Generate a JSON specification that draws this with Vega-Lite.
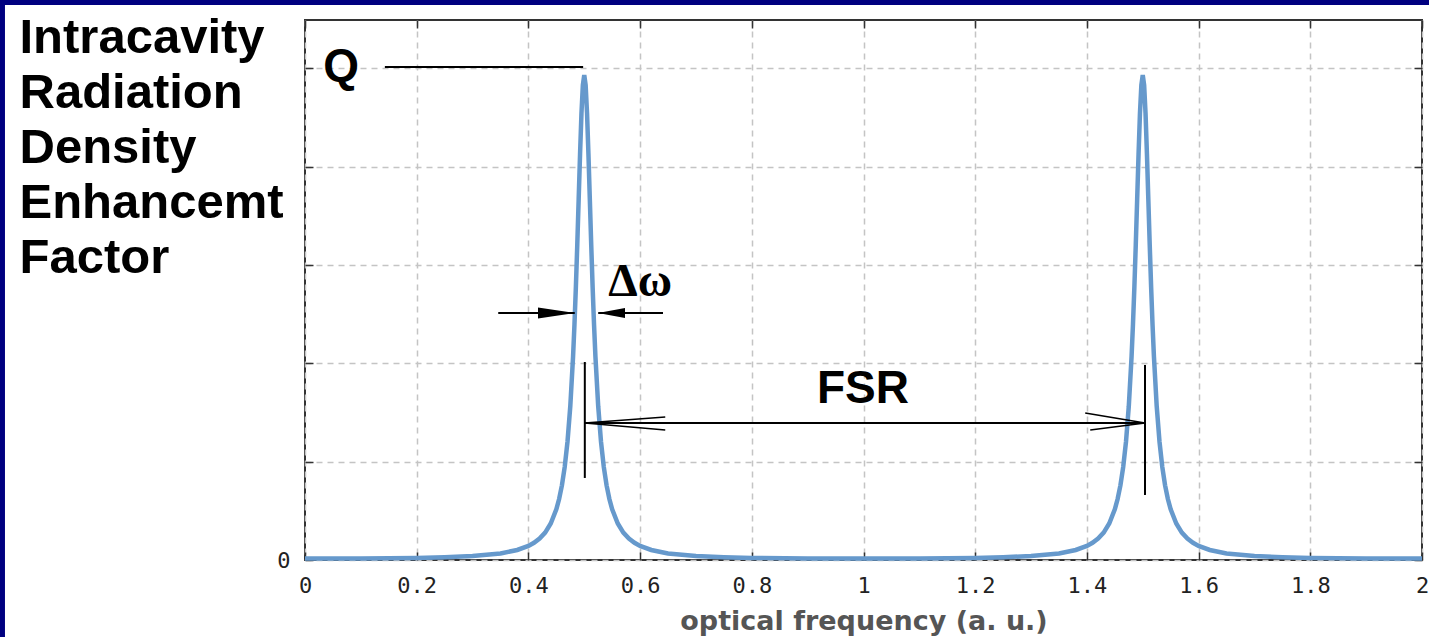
{
  "$schema": "https://vega.github.io/schema/vega-lite/v6.json",
  "width": 1117,
  "height": 540,
  "autosize": {"type": "none"},
  "padding": {"left": 305, "top": 20, "right": 7, "bottom": 77},
  "background": "white",
  "config": {
    "view": {"stroke": "#333333", "strokeWidth": 2}
  },
  "resolve": {"axis": {"x": "independent", "y": "independent"}},
  "layer": [
    {
      "data": {"values": [
        {"x": -1, "x2": 3, "y": 5.643, "y2": 9},
        {"x": -1, "x2": -0.5372, "y": -3, "y2": 9}
      ]},
      "mark": {"type": "rect", "fill": "#000080", "clip": false},
      "encoding": {
        "x": {"field": "x", "type": "quantitative", "scale": {"domain": [0, 2], "nice": false, "zero": false}, "axis": null},
        "x2": {"field": "x2"},
        "y": {"field": "y", "type": "quantitative", "scale": {"domain": [0, 5.49], "nice": false, "zero": false}, "axis": null},
        "y2": {"field": "y2"}
      }
    },
    {
      "data": {"values": [
        {"x": 0, "y": 0.014}, {"x": 0.1, "y": 0.0155}, {"x": 0.2, "y": 0.021}, {"x": 0.25, "y": 0.028},
        {"x": 0.3, "y": 0.04}, {"x": 0.35, "y": 0.067}, {"x": 0.38, "y": 0.102}, {"x": 0.4, "y": 0.143},
        {"x": 0.41, "y": 0.1746}, {"x": 0.42, "y": 0.218}, {"x": 0.43, "y": 0.279}, {"x": 0.44, "y": 0.371},
        {"x": 0.45, "y": 0.515}, {"x": 0.455, "y": 0.62}, {"x": 0.46, "y": 0.759}, {"x": 0.465, "y": 0.945},
        {"x": 0.47, "y": 1.202}, {"x": 0.475, "y": 1.563}, {"x": 0.48, "y": 2.071}, {"x": 0.4825, "y": 2.397},
        {"x": 0.485, "y": 2.774}, {"x": 0.4875, "y": 3.203}, {"x": 0.49, "y": 3.665}, {"x": 0.4925, "y": 4.128},
        {"x": 0.495, "y": 4.54}, {"x": 0.4975, "y": 4.826}, {"x": 0.5, "y": 4.93}, {"x": 0.5025, "y": 4.826},
        {"x": 0.505, "y": 4.54}, {"x": 0.5075, "y": 4.128}, {"x": 0.51, "y": 3.665}, {"x": 0.5125, "y": 3.203},
        {"x": 0.515, "y": 2.774}, {"x": 0.5175, "y": 2.397}, {"x": 0.52, "y": 2.071}, {"x": 0.525, "y": 1.563},
        {"x": 0.53, "y": 1.202}, {"x": 0.535, "y": 0.945}, {"x": 0.54, "y": 0.759}, {"x": 0.545, "y": 0.62},
        {"x": 0.55, "y": 0.515}, {"x": 0.56, "y": 0.371}, {"x": 0.57, "y": 0.279}, {"x": 0.58, "y": 0.218},
        {"x": 0.59, "y": 0.1746}, {"x": 0.6, "y": 0.143}, {"x": 0.62, "y": 0.102}, {"x": 0.65, "y": 0.067},
        {"x": 0.7, "y": 0.04}, {"x": 0.75, "y": 0.028}, {"x": 0.8, "y": 0.021}, {"x": 0.9, "y": 0.0155},
        {"x": 1.0, "y": 0.014}, {"x": 1.1, "y": 0.0155}, {"x": 1.2, "y": 0.021}, {"x": 1.25, "y": 0.028},
        {"x": 1.3, "y": 0.04}, {"x": 1.35, "y": 0.067}, {"x": 1.38, "y": 0.102}, {"x": 1.4, "y": 0.143},
        {"x": 1.41, "y": 0.1746}, {"x": 1.42, "y": 0.218}, {"x": 1.43, "y": 0.279}, {"x": 1.44, "y": 0.371},
        {"x": 1.45, "y": 0.515}, {"x": 1.455, "y": 0.62}, {"x": 1.46, "y": 0.759}, {"x": 1.465, "y": 0.945},
        {"x": 1.47, "y": 1.202}, {"x": 1.475, "y": 1.563}, {"x": 1.48, "y": 2.071}, {"x": 1.4825, "y": 2.397},
        {"x": 1.485, "y": 2.774}, {"x": 1.4875, "y": 3.203}, {"x": 1.49, "y": 3.665}, {"x": 1.4925, "y": 4.128},
        {"x": 1.495, "y": 4.54}, {"x": 1.4975, "y": 4.826}, {"x": 1.5, "y": 4.93}, {"x": 1.5025, "y": 4.826},
        {"x": 1.505, "y": 4.54}, {"x": 1.5075, "y": 4.128}, {"x": 1.51, "y": 3.665}, {"x": 1.5125, "y": 3.203},
        {"x": 1.515, "y": 2.774}, {"x": 1.5175, "y": 2.397}, {"x": 1.52, "y": 2.071}, {"x": 1.525, "y": 1.563},
        {"x": 1.53, "y": 1.202}, {"x": 1.535, "y": 0.945}, {"x": 1.54, "y": 0.759}, {"x": 1.545, "y": 0.62},
        {"x": 1.55, "y": 0.515}, {"x": 1.56, "y": 0.371}, {"x": 1.57, "y": 0.279}, {"x": 1.58, "y": 0.218},
        {"x": 1.59, "y": 0.1746}, {"x": 1.6, "y": 0.143}, {"x": 1.62, "y": 0.102}, {"x": 1.65, "y": 0.067},
        {"x": 1.7, "y": 0.04}, {"x": 1.75, "y": 0.028}, {"x": 1.8, "y": 0.021}, {"x": 1.9, "y": 0.0155},
        {"x": 2.0, "y": 0.014}
      ]},
      "mark": {"type": "line", "color": "#6699cc", "strokeWidth": 4.5, "strokeJoin": "miter"},
      "encoding": {
        "x": {
          "field": "x", "type": "quantitative",
          "scale": {"domain": [0, 2], "nice": false, "zero": false},
          "axis": {
            "values": [0, 0.2, 0.4, 0.6, 0.8, 1, 1.2, 1.4, 1.6, 1.8, 2],
            "format": "~g",
            "title": "optical frequency (a. u.)",
            "grid": true, "gridDash": [6, 5], "gridColor": "#c4c4c4", "gridWidth": 1.5,
            "domain": false,
            "ticks": true, "tickSize": -8, "tickColor": "#333333", "tickWidth": 1.5,
            "labelFlush": false, "labelOverlap": false,
            "labelFont": "DejaVu Sans Mono", "labelFontSize": 22, "labelColor": "#222222", "labelPadding": 23,
            "titleFont": "DejaVu Sans", "titleFontSize": 27, "titleFontWeight": "bold", "titleColor": "#555555", "titlePadding": 12
          }
        },
        "y": {
          "field": "y", "type": "quantitative",
          "scale": {"domain": [0, 5.49], "nice": false, "zero": false},
          "axis": {
            "values": [0, 1, 2, 3, 4, 5],
            "labelExpr": "datum.value === 0 ? '0' : ''",
            "grid": true, "gridDash": [6, 5], "gridColor": "#c4c4c4", "gridWidth": 1.5,
            "domain": false,
            "ticks": true, "tickSize": -8, "tickColor": "#333333", "tickWidth": 1.5,
            "labelFont": "DejaVu Sans Mono", "labelFontSize": 22, "labelColor": "#222222", "labelPadding": 23,
            "title": ["Intracavity", "Radiation", "Density", "Enhancemt", "Factor"],
            "titleAngle": 0, "titleAlign": "left", "titleBaseline": "alphabetic",
            "titleX": -286, "titleY": 32,
            "titleFont": "Liberation Sans", "titleFontSize": 49, "titleFontWeight": "bold", "titleColor": "#000000",
            "titleLineHeight": 55
          }
        }
      }
    },
    {
      "data": {"values": [
        {"x": 0.143, "y": 5.012, "x2": 0.498, "y2": 5.012},
        {"x": 0.346, "y": 2.511, "x2": 0.483, "y2": 2.511},
        {"x": 0.525, "y": 2.511, "x2": 0.641, "y2": 2.511},
        {"x": 0.501, "y": 2.013, "x2": 0.501, "y2": 0.834},
        {"x": 1.504, "y": 1.983, "x2": 1.504, "y2": 0.661},
        {"x": 0.501, "y": 1.393, "x2": 1.504, "y2": 1.393}
      ]},
      "mark": {"type": "rule", "color": "#000000", "strokeWidth": 2},
      "encoding": {
        "x": {
          "field": "x", "type": "quantitative",
          "scale": {"domain": [0, 2], "nice": false, "zero": false},
          "axis": {"orient": "top", "values": [0, 0.2, 0.4, 0.6, 0.8, 1, 1.2, 1.4, 1.6, 1.8, 2], "labels": false, "grid": false, "domain": false, "tickSize": -8, "tickColor": "#333333", "tickWidth": 1.5, "title": null}
        },
        "x2": {"field": "x2"},
        "y": {
          "field": "y", "type": "quantitative",
          "scale": {"domain": [0, 5.49], "nice": false, "zero": false},
          "axis": {"orient": "right", "values": [0, 1, 2, 3, 4, 5], "labels": false, "grid": false, "domain": false, "tickSize": -8, "tickColor": "#333333", "tickWidth": 1.5, "title": null}
        },
        "y2": {"field": "y2"}
      }
    },
    {
      "data": {"values": [
        {"x": 0.501, "y": 1.393, "x2": 0.645, "y2": 1.454},
        {"x": 0.501, "y": 1.393, "x2": 0.645, "y2": 1.322},
        {"x": 1.504, "y": 1.393, "x2": 1.397, "y2": 1.494},
        {"x": 1.504, "y": 1.393, "x2": 1.406, "y2": 1.321}
      ]},
      "mark": {"type": "rule", "color": "#000000", "strokeWidth": 1.5},
      "encoding": {
        "x": {"field": "x", "type": "quantitative", "scale": {"domain": [0, 2], "nice": false, "zero": false}, "axis": null},
        "x2": {"field": "x2"},
        "y": {"field": "y", "type": "quantitative", "scale": {"domain": [0, 5.49], "nice": false, "zero": false}, "axis": null},
        "y2": {"field": "y2"}
      }
    },
    {
      "data": {"values": [{"x": 0.4503, "y": 2.511}]},
      "mark": {"type": "point", "shape": "M-1,-0.3L1,0L-1,0.3Z", "size": 1369, "filled": true, "color": "#000000", "opacity": 1, "strokeWidth": 0},
      "encoding": {
        "x": {"field": "x", "type": "quantitative", "scale": {"domain": [0, 2], "nice": false, "zero": false}, "axis": null},
        "y": {"field": "y", "type": "quantitative", "scale": {"domain": [0, 5.49], "nice": false, "zero": false}, "axis": null}
      }
    },
    {
      "data": {"values": [{"x": 0.5488, "y": 2.511}]},
      "mark": {"type": "point", "shape": "M1,-0.37L-1,0L1,0.37Z", "size": 729, "filled": true, "color": "#000000", "opacity": 1, "strokeWidth": 0},
      "encoding": {
        "x": {"field": "x", "type": "quantitative", "scale": {"domain": [0, 2], "nice": false, "zero": false}, "axis": null},
        "y": {"field": "y", "type": "quantitative", "scale": {"domain": [0, 5.49], "nice": false, "zero": false}, "axis": null}
      }
    },
    {
      "data": {"values": [{"x": 0.0645, "y": 4.87, "t": "Q"}, {"x": 0.999, "y": 1.596, "t": "FSR"}]},
      "mark": {"type": "text", "font": "Liberation Sans", "fontWeight": "bold", "fontSize": 46, "color": "#000000", "align": "center", "baseline": "alphabetic"},
      "encoding": {
        "x": {"field": "x", "type": "quantitative", "scale": {"domain": [0, 2], "nice": false, "zero": false}, "axis": null},
        "y": {"field": "y", "type": "quantitative", "scale": {"domain": [0, 5.49], "nice": false, "zero": false}, "axis": null},
        "text": {"field": "t"}
      }
    },
    {
      "data": {"values": [{"x": 0.6, "y": 2.684, "t": "Δω"}]},
      "mark": {"type": "text", "font": "Liberation Serif", "fontWeight": "bold", "fontSize": 47, "color": "#000000", "align": "center", "baseline": "alphabetic"},
      "encoding": {
        "x": {"field": "x", "type": "quantitative", "scale": {"domain": [0, 2], "nice": false, "zero": false}, "axis": null},
        "y": {"field": "y", "type": "quantitative", "scale": {"domain": [0, 5.49], "nice": false, "zero": false}, "axis": null},
        "text": {"field": "t"}
      }
    }
  ]
}
